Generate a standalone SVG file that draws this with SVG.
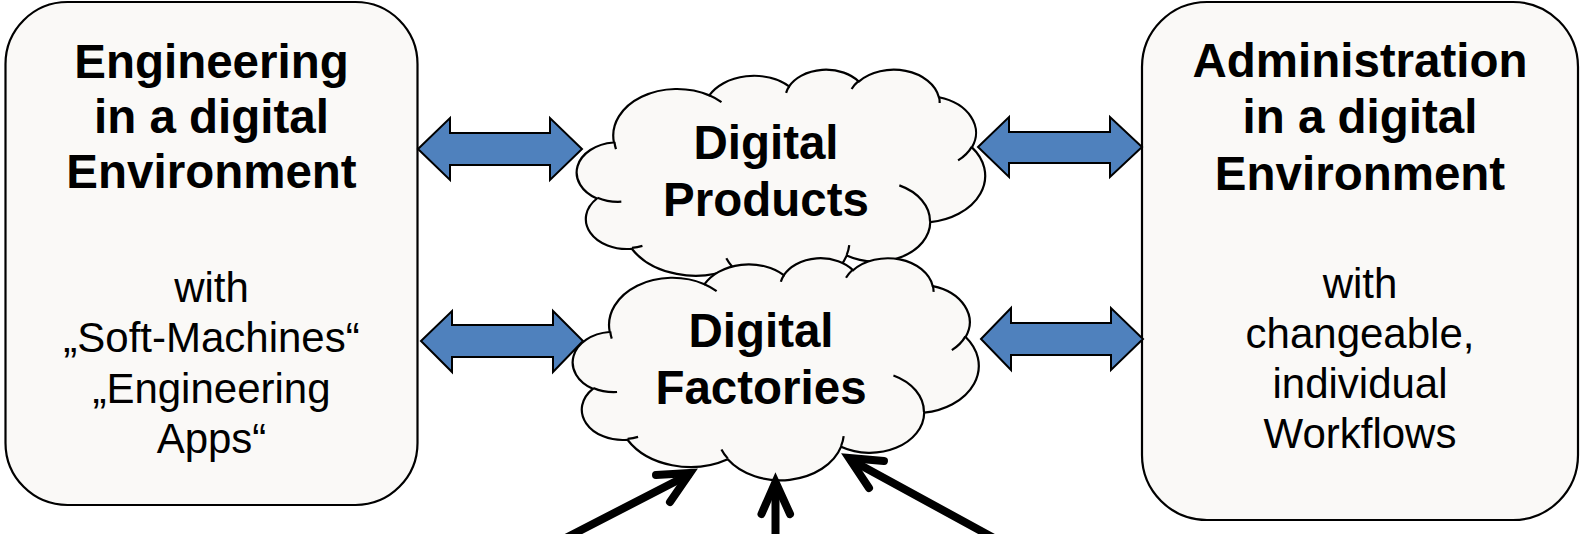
<svg xmlns="http://www.w3.org/2000/svg" xmlns:xlink="http://www.w3.org/1999/xlink" width="1580" height="534" viewBox="0 0 1580 534">
<style>
.box{fill:#FAF9F7;stroke:#000;stroke-width:2.2}
.cloud{fill:#FAF9F7;stroke:#000;stroke-width:2.2}
.inner{fill:none;stroke:#000;stroke-width:2.2}
.t{font-family:"Liberation Sans",Arial,sans-serif;text-anchor:middle;fill:#000}
.b{font-weight:bold;font-size:47.5px}
.r{font-size:42px}
.blue{fill:#4F81BD;stroke:#000;stroke-width:2;stroke-linejoin:miter}
.blk{fill:none;stroke:#000;stroke-width:8;stroke-linecap:round;stroke-linejoin:miter}
</style>
<defs>
<path id="cloudOuter" vector-effect="non-scaling-stroke" d="M3900 14370 A6753 9190 0 0 1 14005 5202 A5333 7267 0 0 1 22456 3430 A4365 5945 0 0 1 29833 2477 A4857 6595 0 0 1 38318 5573 A5333 7273 0 0 1 41818 15457 A6775 9220 0 0 1 37404 30201 A5785 7867 0 0 1 28556 36811 A6752 9215 0 0 1 16480 39263 A7720 10543 0 0 1 5804 35467 A4360 5918 0 0 1 2112 25546 A4345 5945 0 0 1 3862 14502 Z"/>
<path id="cloudInner" vector-effect="non-scaling-stroke" d="M4693 26177 A4345 5945 0 0 1 2160 25380 M6928 34899 A4360 5918 0 0 1 5820 35281 M16478 39090 A6752 9215 0 0 1 15810 37349 M28827 34751 A6752 9215 0 0 1 28560 36660 M34129 22954 A5785 7867 0 0 1 37380 30090 M41798 15354 A5333 7273 0 0 1 40350 18030 M38324 5426 A4857 6595 0 0 1 38400 6690 M29078 3952 A4857 6595 0 0 1 29821 2338 M22141 4720 A4365 5945 0 0 1 22500 3331 M14000 5192 A6753 9190 0 0 1 15299 6539 M4127 15789 A6753 9190 0 0 1 3962 14379"/>
</defs>
<g id="engineering">
<rect class="box" x="5.5" y="2" width="412" height="503" rx="62" ry="62"/>
<text class="t b" x="211.5" y="78">Engineering</text>
<text class="t b" x="211.5" y="133">in a digital</text>
<text class="t b" x="211.5" y="188">Environment</text>
<text class="t r" x="211.5" y="302">with</text>
<text class="t r" x="211.5" y="352">„Soft-Machines“</text>
<text class="t r" x="211.5" y="403">„Engineering</text>
<text class="t r" x="211.5" y="453">Apps“</text>
</g>
<g id="administration">
<rect class="box" x="1142" y="2" width="436" height="518" rx="65" ry="65"/>
<text class="t b" x="1360" y="77">Administration</text>
<text class="t b" x="1360" y="133">in a digital</text>
<text class="t b" x="1360" y="190">Environment</text>
<text class="t r" x="1360" y="298">with</text>
<text class="t r" x="1360" y="348">changeable,</text>
<text class="t r" x="1360" y="398">individual</text>
<text class="t r" x="1360" y="448">Workflows</text>
</g>
<g id="digital-products">
<g transform="translate(577,69) scale(0.0094444,0.0050694)">
<use xlink:href="#cloudOuter" class="cloud"/>
<use xlink:href="#cloudInner" class="inner"/>
</g>
<text class="t b" x="766" y="159">Digital</text>
<text class="t b" x="766" y="216">Products</text>
</g>
<g id="digital-factories">
<g transform="translate(573,257.5) scale(0.0093889,0.0051389)">
<use xlink:href="#cloudOuter" class="cloud"/>
<use xlink:href="#cloudInner" class="inner"/>
</g>
<text class="t b" x="761" y="347">Digital</text>
<text class="t b" x="761" y="404">Factories</text>
</g>
<g id="connectors">
<polygon class="blue" points="418,149 450,118 450,133 550,133 550,118 582,149 550,180 550,165 450,165 450,180"/>
<polygon class="blue" points="978,147 1009,117 1009,132 1110,132 1110,117 1142,147 1110,177 1110,163 1009,163 1009,177"/>
<polygon class="blue" points="421,341 452,311 452,325 553,325 553,311 583,341 553,372 553,357 452,357 452,372"/>
<polygon class="blue" points="981,339 1011,308 1011,323 1111,323 1111,308 1143,339 1111,370 1111,355 1011,355 1011,370"/>
<line class="blk" x1="556" y1="543" x2="688" y2="475"/>
<polyline class="blk" points="656,475 690,473 670,502"/>
<line class="blk" x1="775.5" y1="545" x2="775.5" y2="484"/>
<polyline class="blk" points="761.5,514 775.5,482 790,514"/>
<line class="blk" x1="1003" y1="543" x2="851" y2="460"/>
<polyline class="blk" points="884,461 849,458 869,488"/>
</g>
</svg>
